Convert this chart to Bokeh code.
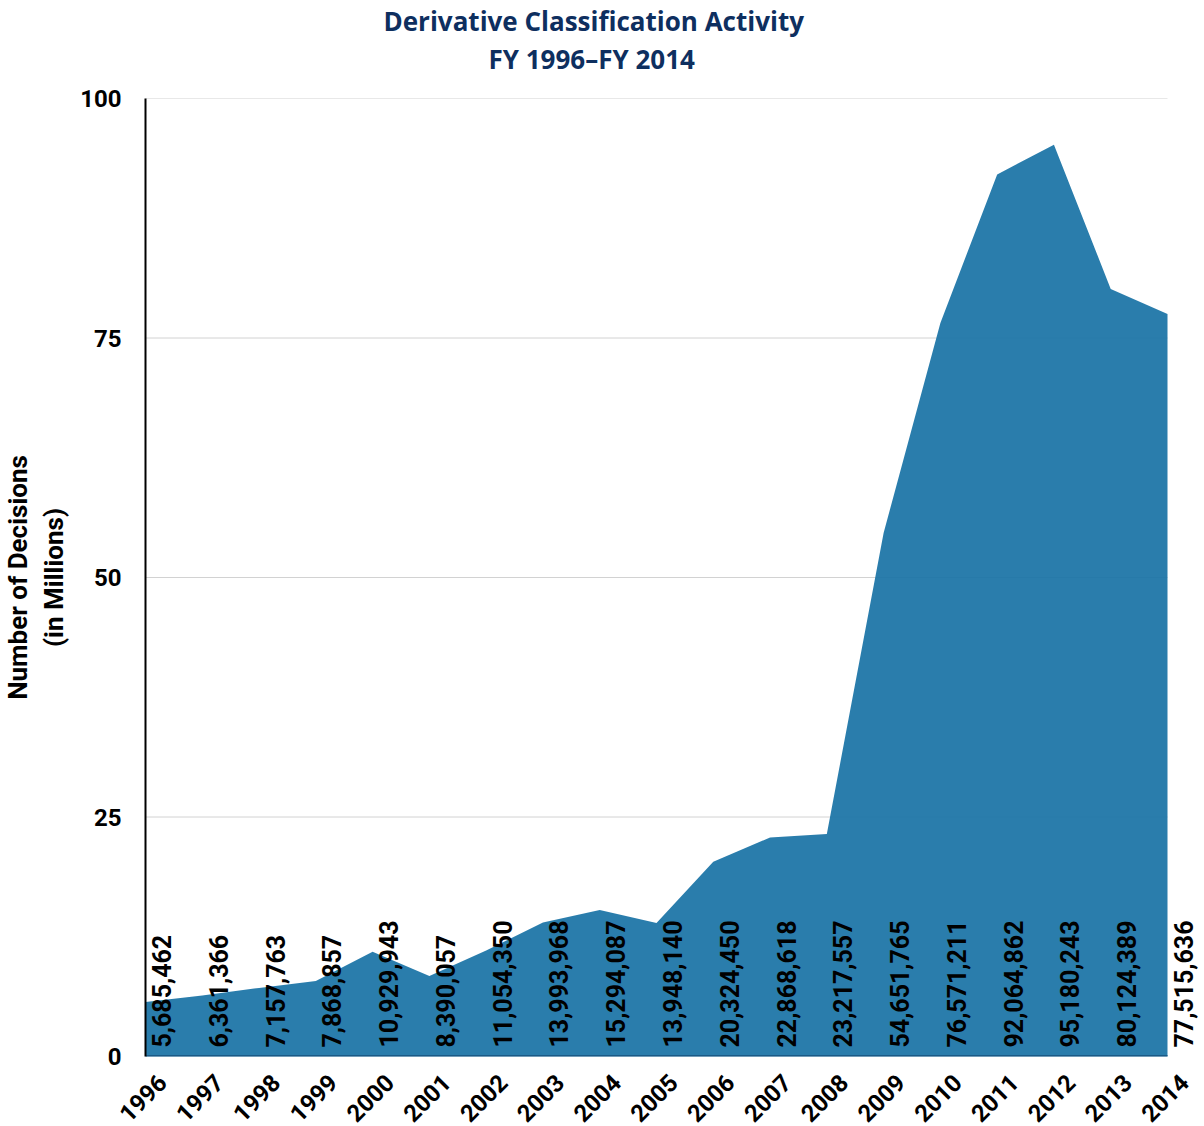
import math
from bokeh.plotting import figure
from bokeh.models import Range1d, FixedTicker, ColumnDataSource, Title
from bokeh.core.properties import value
from bokeh.embed import file_html
from bokeh.resources import INLINE

years = list(range(1996, 2015))
year_labels = [str(y) for y in years]
decisions = [5685462, 6361366, 7157763, 7868857, 10929943, 8390057, 11054350,
             13993968, 15294087, 13948140, 20324450, 22868618, 23217557,
             54651765, 76571211, 92064862, 95180243, 80124389, 77515636]
y_ticks = [0, 25, 50, 75, 100]
title_lines = ["Derivative Classification Activity", "FY 1996\u2013FY 2014"]
y_label = "Number of Decisions\n(in Millions)"

millions = [d / 1e6 for d in decisions]
labels = [f"{d:,}" for d in decisions]
src = ColumnDataSource(dict(x=years, y=millions, zero=[0] * len(years), lab=labels))

NUM_FONT = "Roboto"
TITLE_FONT = "Open Sans"
TITLE_COLOR = "#0e2f5f"

FRAME_W = 1054
px_per_year = 1022 / (years[-1] - years[0])
x_end = years[0] + FRAME_W / px_per_year
tick_shift = 0.3

p = figure(frame_width=FRAME_W, frame_height=958, output_backend="svg", toolbar_location=None,
           x_range=Range1d(years[0], x_end), y_range=Range1d(0, 100),
           min_border_left=0, min_border_right=0, min_border_top=0, min_border_bottom=0)
p.outline_line_color = None
p.grid.visible = False

# spacer between title and frame (first added sits nearest the frame)
p.add_layout(Title(text=" ", text_font_size="1px", standoff=19), "above")
p.add_layout(Title(text=title_lines[1], align="left", offset=343, text_font=TITLE_FONT,
                   text_font_size="26px", text_font_style="bold", text_color=TITLE_COLOR,
                   standoff=0), "above")
p.add_layout(Title(text=title_lines[0], align="left", offset=238, text_font=TITLE_FONT,
                   text_font_size="26px", text_font_style="bold", text_color=TITLE_COLOR,
                   standoff=0), "above")

# grid lines up to the last year
for gy in y_ticks[1:]:
    p.line([years[0], years[-1]], [gy, gy], line_color="#d2d2d2", line_width=1)

# area
p.varea(x="x", y1="zero", y2="y", source=src, fill_color="#1872a5", fill_alpha=0.92)
p.line([years[0], years[-1]], [0, 0], line_color="#1b5a86", line_width=3)

# data labels
p.text(x="x", y="zero", text="lab", source=src, angle=math.pi / 2,
       text_align="left", text_baseline="middle", x_offset=16, y_offset=-9,
       text_font=value(NUM_FONT), text_font_style="bold", text_font_size="25px",
       text_color="black")

# axes
p.yaxis.ticker = FixedTicker(ticks=y_ticks)
p.yaxis.axis_line_color = "black"
p.yaxis.axis_line_width = 2
p.yaxis.major_tick_line_color = None
p.yaxis.minor_tick_line_color = None
p.yaxis.major_label_standoff = 18
p.yaxis.major_label_text_font = NUM_FONT
p.yaxis.major_label_text_font_style = "bold"
p.yaxis.major_label_text_font_size = "24px"
p.yaxis.major_label_text_color = "black"
p.yaxis.axis_label = y_label
p.yaxis.axis_label_text_font = NUM_FONT
p.yaxis.axis_label_text_font_style = "bold"
p.yaxis.axis_label_text_font_size = "26px"
p.yaxis.axis_label_text_color = "black"
p.yaxis.axis_label_standoff = 8

shifted = [y + tick_shift for y in years]
p.xaxis.ticker = FixedTicker(ticks=shifted)
p.xaxis.major_label_overrides = {t: lab for t, lab in zip(shifted, year_labels)}
p.xaxis.axis_line_color = None
p.xaxis.major_tick_line_color = None
p.xaxis.minor_tick_line_color = None
p.xaxis.major_label_orientation = math.pi / 4
p.xaxis.major_label_standoff = 16
p.xaxis.major_label_text_font = NUM_FONT
p.xaxis.major_label_text_font_style = "bold"
p.xaxis.major_label_text_font_size = "24px"
p.xaxis.major_label_text_color = "black"

open("out.html", "w").write(file_html(p, INLINE))
